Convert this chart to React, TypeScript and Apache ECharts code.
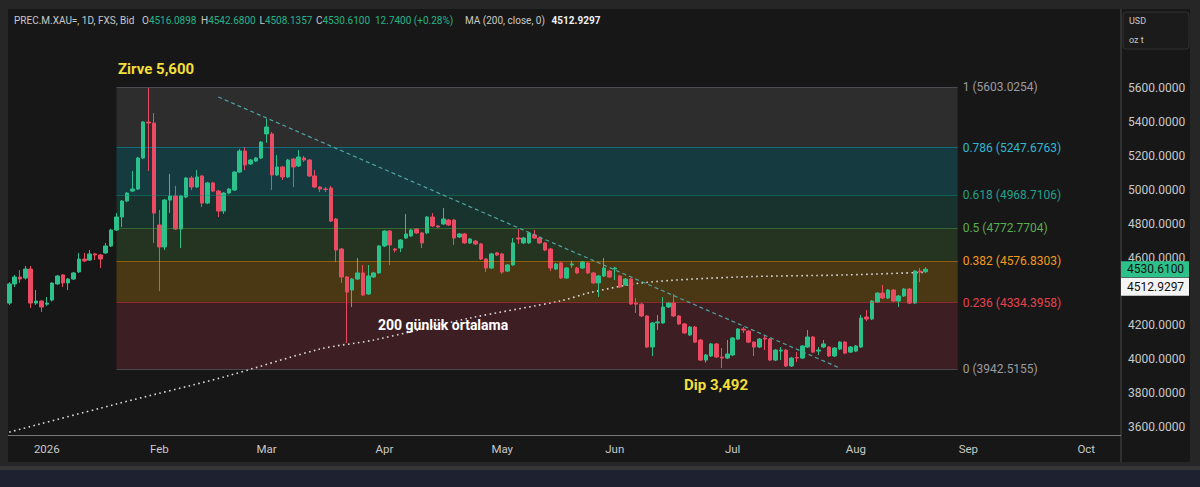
import React, { useEffect, useRef } from "react";
import * as echarts from "echarts";

// ---------- DATA ----------
const OPEN = [
  4331, 4444, 4485, 4479, 4532, 4331, 4343, 4325, 4349, 4444, 4497, 4450, 4473, 4515, 4591, 4585, 4621, 4615, 4627, 4668,
  4762, 4839, 4933, 4992, 5004, 5187, 5399, 5393, 4792, 4662, 4939, 4963, 4768, 4957, 5069, 5016, 5081, 4921, 5040, 4992,
  4874, 4980, 4998, 5104, 5228, 5152, 5169, 5187, 5329, 5329, 5087, 5134, 5075, 5181, 5140, 5187, 5175, 5081, 5016, 5004,
  5010, 4827, 4650, 4485, 4408, 4473, 4509, 4385, 4485, 4509, 4668, 4756, 4650, 4656, 4715, 4727, 4768, 4745, 4745, 4839,
  4786, 4798, 4821, 4821, 4721, 4739, 4686, 4697, 4680, 4591, 4538, 4627, 4621, 4520, 4556, 4715, 4686, 4686, 4733, 4715,
  4686, 4650, 4532, 4568, 4479, 4556, 4538, 4538, 4568, 4509, 4450, 4491, 4520, 4532, 4491, 4438, 4473, 4331, 4325, 4255,
  4072, 4214, 4214, 4308, 4332, 4255, 4208, 4143, 4190, 4113, 3995, 4019, 4090, 4013, 4007, 4025, 4119, 4178, 4166, 4101,
  4072, 4125, 4119, 3995, 4048, 4054, 3960, 4010, 4007, 4072, 4131, 4048, 4072, 4072, 4019, 4060, 4101, 4042, 4048, 4072,
  4249, 4237, 4337, 4390, 4361, 4408, 4343, 4373, 4414, 4331, 4520, 4516.0898,
];
const CLOSE = [
  4444, 4485, 4473, 4532, 4331, 4343, 4308, 4331, 4449, 4491, 4450, 4473, 4509, 4591, 4580, 4621, 4615, 4591, 4668, 4762,
  4839, 4933, 4980, 5004, 5187, 5399, 5393, 4862, 4662, 4939, 4963, 4768, 4963, 5069, 5016, 5075, 4921, 5040, 4992, 4874,
  4980, 5004, 5104, 5228, 5146, 5175, 5187, 5281, 5370, 5087, 5134, 5075, 5175, 5134, 5193, 5175, 5081, 5016, 5004, 5001,
  4815, 4644, 4485, 4396, 4473, 4509, 4379, 4491, 4509, 4668, 4756, 4674, 4644, 4703, 4739, 4762, 4745, 4686, 4839, 4786,
  4780, 4827, 4792, 4715, 4739, 4686, 4709, 4680, 4591, 4538, 4621, 4615, 4514, 4556, 4686, 4709, 4715, 4745, 4715, 4686,
  4644, 4538, 4562, 4479, 4538, 4562, 4509, 4573, 4509, 4450, 4491, 4538, 4485, 4538, 4426, 4473, 4326, 4325, 4255, 4072,
  4214, 4220, 4308, 4332, 4255, 4208, 4155, 4190, 4101, 3995, 4025, 4090, 4013, 4007, 4031, 4125, 4178, 4172, 4101, 4072,
  4119, 4119, 3995, 4054, 4054, 3960, 4007, 4007, 4078, 4131, 4042, 4054, 4090, 4019, 4066, 4101, 4036, 4072, 4078, 4243,
  4237, 4343, 4390, 4361, 4408, 4343, 4373, 4414, 4331, 4520, 4514, 4530.61,
];
const LOW = [
  4320, 4426, 4450, 4470, 4302, 4320, 4278, 4314, 4340, 4440, 4426, 4408, 4467, 4509, 4573, 4580, 4585, 4538, 4621, 4662,
  4756, 4780, 4927, 4986, 4998, 5180, 5110, 4686, 4402, 4644, 4862, 4762, 4656, 4950, 4998, 5010, 4898, 4915, 4986, 4839,
  4857, 4974, 4992, 5098, 5116, 5146, 5163, 5181, 5276, 4998, 5081, 5057, 5069, 5016, 5134, 5163, 5075, 5010, 4986, 4986,
  4809, 4573, 4450, 4096, 4308, 4467, 4373, 4379, 4480, 4503, 4662, 4556, 4630, 4632, 4709, 4721, 4739, 4656, 4739, 4780,
  4774, 4792, 4786, 4674, 4715, 4680, 4680, 4674, 4585, 4514, 4532, 4609, 4503, 4514, 4550, 4680, 4680, 4680, 4709, 4680,
  4638, 4520, 4526, 4473, 4473, 4540, 4503, 4532, 4503, 4444, 4367, 4485, 4479, 4467, 4420, 4432, 4320, 4273, 4249, 4066,
  4019, 4172, 4208, 4302, 4249, 4202, 4149, 4137, 4095, 3989, 3980, 4013, 4007, 3948, 4001, 4019, 4113, 4155, 4095, 4019,
  4066, 4054, 3989, 3989, 3995, 3954, 3954, 3983, 4001, 4066, 4036, 4025, 4066, 4013, 4013, 4054, 4030, 4036, 4042, 4066,
  4225, 4231, 4331, 4355, 4355, 4337, 4308, 4367, 4325, 4325, 4455, 4508.1357,
];
const HIGH = [
  4455, 4497, 4526, 4550, 4550, 4408, 4349, 4367, 4455, 4497, 4503, 4479, 4515, 4627, 4627, 4644, 4627, 4621, 4686, 4770,
  4862, 4939, 4986, 5110, 5193, 5405, 5600, 5452, 4880, 4945, 5093, 5022, 4970, 5075, 5080, 5116, 5087, 5046, 5046, 4998,
  4986, 5010, 5110, 5240, 5252, 5181, 5193, 5287, 5417, 5340, 5205, 5140, 5181, 5187, 5234, 5199, 5181, 5116, 5022, 5016,
  5022, 4833, 4656, 4491, 4479, 4597, 4556, 4556, 4515, 4674, 4762, 4762, 4656, 4709, 4857, 4768, 4774, 4750, 4845, 4862,
  4792, 4892, 4827, 4827, 4745, 4745, 4715, 4703, 4686, 4597, 4627, 4633, 4627, 4562, 4715, 4768, 4721, 4750, 4762, 4721,
  4692, 4656, 4568, 4574, 4544, 4580, 4544, 4580, 4574, 4515, 4497, 4597, 4526, 4545, 4497, 4479, 4479, 4361, 4331, 4261,
  4220, 4261, 4367, 4338, 4385, 4261, 4214, 4196, 4196, 4119, 4031, 4096, 4096, 4066, 4113, 4131, 4184, 4190, 4172, 4107,
  4125, 4140, 4125, 4060, 4072, 4060, 4013, 4042, 4084, 4172, 4137, 4072, 4113, 4078, 4072, 4107, 4107, 4078, 4084, 4261,
  4290, 4349, 4396, 4438, 4414, 4414, 4379, 4420, 4420, 4526, 4538, 4542.68,
];

// 200-day moving average, read at a few bar positions
const MA_BAR = [0, 20, 40, 58, 68, 86, 103, 108, 118, 136, 156, 171];
const MA_VALUE = [3570, 3736, 3895, 4060, 4113, 4243, 4345, 4390, 4450, 4485, 4497, 4512.9297];

// Fibonacci retracement
const FIB_LEVELS = ["1", "0.786", "0.618", "0.5", "0.382", "0.236", "0"];
const FIB_PRICES = [5603.0254, 5247.6763, 4968.7106, 4772.7704, 4576.8303, 4334.3958, 3942.5155];
const FIB_START_BAR = 20;
const FIB_END_BAR = 177;

// Descending trend line (bar, price)
const TREND_BAR = [39, 155];
const TREND_PRICE = [5547, 3948];

// 4400 sits under the price tags in the reference, so it is not shown
const Y_TICKS = [3600, 3800, 4000, 4200, 4600, 4800, 5000, 5200, 5400, 5600];
const MONTHS = ["Jan", "Feb", "Mar", "Apr", "May", "Jun", "Jul", "Aug", "Sep", "Oct", "Nov", "Dec"];
const FIRST_DAY = [2025, 11, 22];
const N_BARS = 208;
const HOLIDAYS = ["2025-12-25", "2026-01-01"];

const LAST = { open: 4516.0898, high: 4542.68, low: 4508.1357, close: 4530.61, change: 12.74, pct: 0.28 };
const MA_LAST = 4512.9297;

// ---------- STYLE ----------
const UP = "#2cc08a";
const DOWN = "#ea4a62";
const FIB_FILLS = ["#2d2d2e", "#153a40", "#18332e", "#243421", "#4a3714", "#3d1e23"];
const FIB_LINE = [
  "rgba(120,123,134,0.5)",
  "rgba(0,188,212,0.45)",
  "rgba(8,153,129,0.45)",
  "rgba(76,175,80,0.45)",
  "rgba(255,152,0,0.45)",
  "rgba(242,54,69,0.45)",
  "rgba(120,123,134,0.5)",
];
const FIB_TEXT = ["#9a9ba1", "#2fb7d3", "#1fa28c", "#5cad50", "#f29a1c", "#e8424f", "#9a9ba1"];
const FONT = "Roboto, 'Open Sans', sans-serif";

function buildDates(): string[] {
  const out: string[] = [];
  const d = new Date(Date.UTC(FIRST_DAY[0], FIRST_DAY[1], FIRST_DAY[2]));
  while (out.length < N_BARS) {
    const wd = d.getUTCDay();
    const s = d.toISOString().slice(0, 10);
    if (wd !== 0 && wd !== 6 && !HOLIDAYS.includes(s)) out.push(s);
    d.setUTCDate(d.getUTCDate() + 1);
  }
  return out;
}

export default function App() {
  const ref = useRef<HTMLDivElement>(null);

  useEffect(() => {
    const dates = buildDates();
    const chart = echarts.init(ref.current!, null, { renderer: "svg" });

    const candles = OPEN.map((o, i) => [o, CLOSE[i], LOW[i], HIGH[i]]);
    const ma = MA_BAR.map((b, i) => [dates[b], MA_VALUE[i]]);

    const fibAreas = FIB_FILLS.map((c, i) => [
      { coord: [dates[FIB_START_BAR], FIB_PRICES[i]], itemStyle: { color: c } },
      { coord: [dates[FIB_END_BAR], FIB_PRICES[i + 1]] },
    ]);
    const fibLines = FIB_PRICES.map((p, i) => [
      {
        coord: [dates[FIB_START_BAR], p],
        lineStyle: { color: FIB_LINE[i], width: 1, type: "solid" },
        label: {
          show: true,
          position: "end",
          distance: 5,
          formatter: `${FIB_LEVELS[i]} (${p.toFixed(4)})`,
          color: FIB_TEXT[i],
          opacity: 1,
          fontSize: 12,
          fontFamily: FONT,
        },
      },
      { coord: [dates[FIB_END_BAR], p] },
    ]);

    const option: any = {
      animation: false,
      backgroundColor: "transparent",
      textStyle: { fontFamily: FONT },
      grid: { left: 6.62, width: 1114.46, top: 10, height: 425 },
      xAxis: {
        type: "category",
        data: dates,
        boundaryGap: true,
        axisLine: { show: false },
        axisTick: { show: false },
        splitLine: { show: false },
        axisLabel: {
          interval: (i: number, v: string) => i > 0 && v.slice(0, 7) !== dates[i - 1].slice(0, 7),
          formatter: (v: string) => {
            const m = +v.slice(5, 7);
            return m === 1 ? v.slice(0, 4) : MONTHS[m - 1];
          },
          color: "#c8c8c8",
          fontSize: 11.5,
          margin: 8,
          fontFamily: FONT,
        },
      },
      yAxis: {
        type: "value",
        position: "right",
        min: 3553,
        max: 6060,
        splitLine: { show: false },
        axisLine: { show: false },
        axisTick: { show: false },
        axisLabel: {
          customValues: Y_TICKS,
          formatter: (v: number) => v.toFixed(4),
          color: "#c8c8c8",
          fontSize: 12,
          margin: 7,
          fontFamily: FONT,
        },
      },
      series: [
        {
          type: "line",
          data: [],
          z: 1,
          silent: true,
          markArea: { silent: true, data: fibAreas },
          markLine: { silent: true, symbol: ["none", "none"], data: fibLines },
        },
        {
          type: "line",
          data: ma,
          z: 3,
          smooth: 0.3,
          showSymbol: false,
          silent: true,
          lineStyle: { color: "#d9d9d9", width: 1.6, type: [1.6, 3.4] },
        },
        {
          type: "candlestick",
          data: candles,
          z: 4,
          barWidth: 4,
          itemStyle: { color: UP, color0: DOWN, borderColor: UP, borderColor0: DOWN, borderWidth: 1 },
        },
        {
          type: "line",
          data: [],
          z: 6,
          silent: true,
          markLine: {
            silent: true,
            symbol: ["none", "none"],
            label: { show: false },
            lineStyle: { color: "#4fa5a2", width: 1.2, type: [4, 3] },
            data: [[{ coord: [dates[TREND_BAR[0]], TREND_PRICE[0]] }, { coord: [dates[TREND_BAR[1]], TREND_PRICE[1]] }]],
          },
        },
      ],
    };
    chart.setOption(option);

    const yc = chart.convertToPixel({ yAxisIndex: 0 }, LAST.close) as number;
    const hdr = (x: number, a: string, b: string) => ({
      type: "text",
      x,
      y: 20,
      style: {
        text: `{l|${a}}{g|${b}}`,
        verticalAlign: "middle",
        rich: {
          l: { fill: "#c9c9c9", fontSize: 10, fontFamily: FONT },
          g: { fill: "#26b38a", fontSize: 10, fontFamily: FONT },
        },
      },
    });

    chart.setOption({
      graphic: [
        { type: "line", shape: { x1: 1121, y1: 9, x2: 1121, y2: 462 }, style: { stroke: "#4a4a4a", lineWidth: 1 }, z: 10 },
        { type: "line", shape: { x1: 8, y1: 435.5, x2: 1121, y2: 435.5 }, style: { stroke: "#777", lineWidth: 1 }, z: 10 },
        {
          type: "rect",
          shape: { x: 1123, y: 12, width: 66, height: 37, r: 3 },
          style: { fill: "#1b1b1b", stroke: "#333", lineWidth: 1 },
          z: 10,
        },
        { type: "text", x: 1129, y: 21, style: { text: "USD", fill: "#c8c8c8", fontSize: 9, fontFamily: FONT, verticalAlign: "middle" }, z: 11 },
        { type: "text", x: 1129, y: 40, style: { text: "oz t", fill: "#c8c8c8", fontSize: 9, fontFamily: FONT, verticalAlign: "middle" }, z: 11 },
        {
          type: "text",
          x: 14,
          y: 20,
          style: { text: "PREC.M.XAU=, 1D, FXS, Bid", fill: "#c9c9c9", fontSize: 10, fontFamily: FONT, verticalAlign: "middle" },
        },
        hdr(142, "O", LAST.open.toFixed(4)),
        hdr(201, "H", LAST.high.toFixed(4)),
        hdr(259.5, "L", LAST.low.toFixed(4)),
        hdr(316, "C", LAST.close.toFixed(4)),
        hdr(375, "", `${LAST.change.toFixed(4)} (+${LAST.pct.toFixed(2)}%)`),
        {
          type: "text",
          x: 465,
          y: 20,
          style: {
            text: `{l|MA (200, close, 0)}  {w|${MA_LAST.toFixed(4)}}`,
            verticalAlign: "middle",
            rich: {
              l: { fill: "#c9c9c9", fontSize: 10, fontFamily: FONT },
              w: { fill: "#f0f0f0", fontSize: 10, fontWeight: "bold", fontFamily: FONT },
            },
          },
        },
        {
          type: "text",
          x: 118,
          y: 69,
          style: { text: "Zirve 5,600", fill: "#f2df3a", font: `bold 15px ${FONT}`, verticalAlign: "middle" },
          z: 20,
        },
        {
          type: "text",
          x: 378,
          y: 325,
          style: { text: "200 günlük ortalama", fill: "#ffffff", font: `bold 14px ${FONT}`, verticalAlign: "middle" },
          z: 20,
        },
        {
          type: "text",
          x: 684,
          y: 385,
          style: { text: "Dip 3,492", fill: "#f2df3a", font: `bold 15px ${FONT}`, verticalAlign: "middle" },
          z: 20,
        },
        { type: "rect", shape: { x: 1121, y: yc - 8, width: 68, height: 16 }, style: { fill: "#2cc08a" }, z: 100 },
        {
          type: "text",
          x: 1127,
          y: yc,
          style: { text: LAST.close.toFixed(4), fill: "#101010", fontSize: 12, fontFamily: FONT, verticalAlign: "middle" },
          z: 101,
        },
        { type: "rect", shape: { x: 1121, y: yc + 8.5, width: 68, height: 18 }, style: { fill: "#f4f4f4" }, z: 100 },
        {
          type: "text",
          x: 1127,
          y: yc + 17.5,
          style: { text: MA_LAST.toFixed(4), fill: "#111", fontSize: 12, fontFamily: FONT, verticalAlign: "middle" },
          z: 101,
        },
      ],
    });

    return () => chart.dispose();
  }, []);

  return (
    <div style={{ position: "fixed", left: 0, top: 0, width: 1200, height: 487, background: "#262626", overflow: "hidden" }}>
      <div style={{ position: "absolute", left: 8, top: 9, width: 1182, height: 453, background: "#171717" }} />
      <div style={{ position: "absolute", left: 0, top: 466, width: 1200, height: 4, background: "#353535" }} />
      <div style={{ position: "absolute", left: 0, top: 470, width: 1200, height: 17, background: "#1d2130" }} />
      <div ref={ref} style={{ position: "absolute", left: 0, top: 0, width: 1200, height: 487 }} />
    </div>
  );
}
